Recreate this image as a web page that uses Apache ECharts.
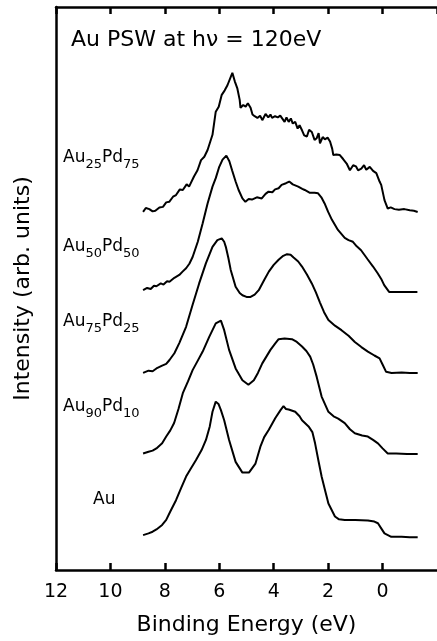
<!DOCTYPE html>
<html>
<head>
<meta charset="utf-8">
<script src="https://cdn.jsdelivr.net/npm/echarts@6/dist/echarts.min.js"></script>
<style>
  html, body { margin: 0; padding: 0; background: #fff; }
  #chart { width: 437px; height: 641px; }
</style>
</head>
<body>
<div id="chart"></div>
<script>
// binding energy (eV) vs intensity (arb. units, curves already offset)
var au25pd75 = [[8.80,63.6],[8.70,64.3],[8.57,64.1],[8.45,63.7],[8.35,63.8],[8.20,64.4],[8.07,64.5],[7.95,65.3],[7.84,65.4],[7.70,66.3],[7.59,66.6],[7.45,67.6],[7.34,67.5],[7.20,68.5],[7.11,68.1],[6.93,69.9],[6.80,71.0],[6.67,72.8],[6.55,73.4],[6.43,74.6],[6.25,77.3],[6.13,81.4],[6.02,82.3],[5.91,84.4],[5.80,85.2],[5.70,86.1],[5.52,88.3],[5.43,86.8],[5.34,85.6],[5.25,83.5],[5.22,82.1],[5.12,82.6],[5.03,82.3],[4.95,82.9],[4.85,82.1],[4.78,80.9],[4.70,80.6],[4.60,80.3],[4.50,80.7],[4.42,79.9],[4.30,81.0],[4.20,80.4],[4.12,80.9],[4.06,80.3],[3.95,80.6],[3.85,80.4],[3.76,80.7],[3.69,80.5],[3.60,79.6],[3.53,80.4],[3.45,79.6],[3.37,80.2],[3.30,79.3],[3.21,79.6],[3.12,78.4],[3.05,79.0],[2.96,78.1],[2.88,77.2],[2.78,77.0],[2.70,78.2],[2.60,77.8],[2.50,76.4],[2.42,76.7],[2.35,77.6],[2.30,75.8],[2.20,76.9],[2.12,76.5],[2.02,76.8],[1.93,76.1],[1.85,74.8],[1.81,73.7],[1.70,73.8],[1.57,73.7],[1.45,73.0],[1.32,72.2],[1.20,71.0],[1.08,71.9],[0.98,71.7],[0.90,71.0],[0.78,71.3],[0.68,71.9],[0.60,71.1],[0.47,71.6],[0.35,70.9],[0.23,70.5],[0.11,69.0],[0.05,68.4],[-0.07,65.7],[-0.19,64.2],[-0.30,64.4],[-0.44,64.1],[-0.60,64.0],[-0.80,64.1],[-1.00,63.9],[-1.15,63.8],[-1.29,63.6]];
var au50pd50 = [[8.80,49.7],[8.65,50.1],[8.52,49.9],[8.40,50.5],[8.31,50.4],[8.15,50.9],[8.05,50.7],[7.92,51.3],[7.83,51.2],[7.65,51.9],[7.47,52.4],[7.35,53.0],[7.22,53.6],[7.10,54.4],[6.98,55.6],[6.79,58.3],[6.61,61.6],[6.43,65.1],[6.25,68.1],[6.13,69.6],[6.01,71.5],[5.88,72.9],[5.74,73.6],[5.63,72.6],[5.53,71.0],[5.40,69.0],[5.29,67.5],[5.15,66.0],[5.04,65.4],[4.92,65.9],[4.80,65.8],[4.62,66.2],[4.44,66.0],[4.30,66.8],[4.19,67.2],[4.05,67.1],[3.95,67.6],[3.82,67.8],[3.71,68.4],[3.55,68.7],[3.43,69.0],[3.30,68.5],[3.10,68.1],[2.95,67.7],[2.86,67.5],[2.67,67.0],[2.50,67.0],[2.37,66.9],[2.25,66.2],[2.13,65.1],[2.00,63.6],[1.86,62.2],[1.64,60.4],[1.39,59.0],[1.25,58.6],[1.09,58.3],[0.95,57.5],[0.79,56.8],[0.55,55.2],[0.35,53.9],[0.18,52.7],[0.05,51.7],[-0.06,50.6],[-0.24,49.4],[-0.60,49.4],[-1.00,49.4],[-1.28,49.4]];
var au75pd25 = [[8.80,35.0],[8.60,35.4],[8.45,35.3],[8.31,35.8],[8.10,36.3],[7.95,36.6],[7.83,37.3],[7.65,38.5],[7.47,40.3],[7.22,43.2],[6.98,47.1],[6.74,50.9],[6.49,54.5],[6.25,57.4],[6.07,58.6],[5.91,58.9],[5.82,58.3],[5.76,57.4],[5.67,55.5],[5.58,53.3],[5.40,50.3],[5.25,49.2],[5.15,48.8],[5.00,48.5],[4.85,48.5],[4.70,48.9],[4.55,49.7],[4.35,51.5],[4.18,53.0],[4.00,54.2],[3.82,55.1],[3.65,55.8],[3.51,56.1],[3.38,56.0],[3.27,55.5],[3.10,54.8],[2.96,53.9],[2.78,52.5],[2.60,50.9],[2.45,49.3],[2.30,47.5],[2.15,45.8],[1.99,44.4],[1.75,43.4],[1.51,42.6],[1.25,41.6],[1.02,40.5],[0.78,39.6],[0.54,38.8],[0.30,38.1],[0.11,37.6],[0.00,36.5],[-0.13,35.2],[-0.33,35.0],[-0.70,35.1],[-1.00,35.0],[-1.29,35.0]];
var au90pd10 = [[8.80,20.7],[8.60,21.0],[8.45,21.2],[8.31,21.6],[8.10,22.5],[7.95,23.7],[7.80,24.8],[7.66,26.1],[7.50,28.6],[7.34,31.4],[7.15,33.5],[6.98,35.5],[6.80,37.1],[6.61,38.8],[6.37,41.4],[6.13,43.8],[5.94,44.3],[5.82,42.6],[5.64,39.1],[5.40,35.8],[5.15,33.7],[4.93,32.9],[4.73,33.7],[4.58,35.0],[4.42,36.7],[4.12,39.1],[3.95,40.2],[3.82,41.0],[3.60,41.1],[3.33,41.0],[3.15,40.5],[2.96,39.7],[2.80,38.9],[2.66,37.9],[2.55,36.5],[2.42,34.3],[2.24,30.8],[1.99,28.1],[1.80,27.3],[1.63,26.9],[1.39,26.1],[1.20,25.0],[1.02,24.3],[0.75,23.9],[0.54,23.7],[0.35,23.1],[0.17,22.5],[0.00,21.6],[-0.19,20.7],[-0.50,20.7],[-0.90,20.6],[-1.29,20.6]];
var au = [[8.80,6.2],[8.60,6.5],[8.45,6.8],[8.31,7.2],[8.10,8.0],[7.95,8.9],[7.80,10.4],[7.59,12.4],[7.40,14.6],[7.22,16.6],[7.05,18.0],[6.86,19.5],[6.65,21.3],[6.49,23.1],[6.35,25.5],[6.25,28.1],[6.13,29.9],[6.03,29.5],[5.94,28.4],[5.82,26.6],[5.64,23.1],[5.40,19.2],[5.15,17.3],[4.91,17.3],[4.67,18.9],[4.49,21.9],[4.35,23.6],[4.18,24.9],[3.94,27.0],[3.75,28.4],[3.64,29.1],[3.55,28.6],[3.45,28.5],[3.21,28.1],[3.05,27.3],[2.96,26.6],[2.72,25.5],[2.58,24.5],[2.48,22.5],[2.36,19.5],[2.24,16.6],[2.10,13.9],[1.99,11.8],[1.75,9.5],[1.60,9.0],[1.39,8.9],[1.00,8.9],[0.54,8.8],[0.30,8.6],[0.17,8.3],[0.05,7.4],[-0.07,6.5],[-0.32,5.9],[-0.70,5.9],[-1.00,5.8],[-1.29,5.8]];

var seriesNames = ['Au25Pd75', 'Au50Pd50', 'Au75Pd25', 'Au90Pd10', 'Au'];
var seriesData = [au25pd75, au50pd50, au75pd25, au90pd10, au];
// rich-text labels (subscripts)
var seriesLabels = ['{n|Au}{s|25}{n|Pd}{s|75}', '{n|Au}{s|50}{n|Pd}{s|50}', '{n|Au}{s|75}{n|Pd}{s|25}', '{n|Au}{s|90}{n|Pd}{s|10}', '{n|Au}'];
var labelPos = [[63, 149], [63, 238], [63, 313], [63, 398], [93, 491]];

var chart = echarts.init(document.getElementById('chart'));

var rich = {
    n: { fontSize: 17, fontFamily: 'DejaVu Sans', fill: '#000', color: '#000' },
    s: { fontSize: 13, fontFamily: 'DejaVu Sans', fill: '#000', color: '#000', padding: [14, 0, 0, 0] }
};

var graphics = [{
    type: 'text',
    left: 71,
    top: 29,
    style: {
        text: 'Au PSW at h\u03bd = 120eV',
        font: '22px "DejaVu Sans"',
        fill: '#000'
    }
}];
seriesLabels.forEach(function (t, i) {
    graphics.push({
        type: 'text',
        left: labelPos[i][0],
        top: labelPos[i][1],
        style: { text: t, rich: rich, fill: '#000' }
    });
});

var axisCommon = {
    type: 'value',
    inverse: true,
    min: -2,
    max: 12,
    interval: 2,
    splitLine: { show: false },
    axisLine: { show: true, onZero: false, lineStyle: { color: '#000', width: 2.5 } },
    axisTick: { show: true, inside: true, length: 7, lineStyle: { color: '#000', width: 2.5 } }
};

var option = {
    animation: false,
    backgroundColor: '#fff',
    grid: { left: 56, right: -3, top: 7, bottom: 71 },
    graphic: graphics,
    xAxis: [
        Object.assign({}, axisCommon, {
            position: 'bottom',
            name: 'Binding Energy (eV)',
            nameLocation: 'middle',
            nameGap: 44,
            nameTextStyle: { fontFamily: 'DejaVu Sans', fontSize: 22, color: '#000' },
            axisLabel: {
                showMinLabel: false,
                margin: 13,
                fontFamily: 'DejaVu Sans',
                fontSize: 19,
                color: '#000'
            }
        }),
        Object.assign({}, axisCommon, {
            position: 'top',
            axisLabel: { show: false }
        })
    ],
    yAxis: {
        type: 'value',
        min: 0,
        max: 100,
        name: 'Intensity (arb. units)',
        nameLocation: 'middle',
        nameGap: 22,
        nameTextStyle: { fontFamily: 'DejaVu Sans', fontSize: 22, color: '#000' },
        axisLine: { show: true, onZero: false, lineStyle: { color: '#000', width: 2.5 } },
        axisTick: { show: false },
        axisLabel: { show: false },
        splitLine: { show: false }
    },
    series: seriesData.map(function (d, i) {
        return {
            name: seriesNames[i],
            type: 'line',
            data: d,
            showSymbol: false,
            symbol: 'none',
            lineStyle: { color: '#000', width: 2 },
            silent: true
        };
    })
};

chart.setOption(option);
</script>
</body>
</html>
